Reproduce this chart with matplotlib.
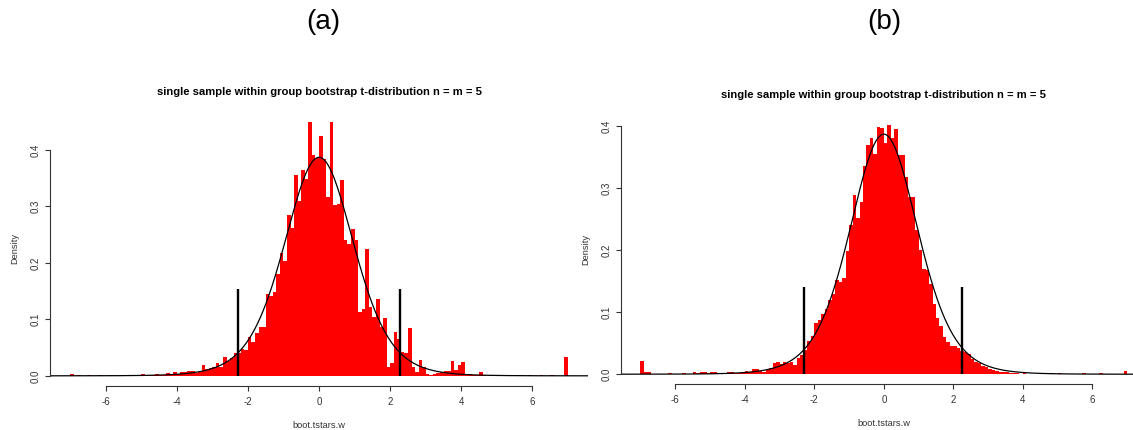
import math
import numpy as np
import matplotlib.pyplot as plt

plt.rcParams['font.family'] = ['Liberation Sans', 'DejaVu Sans']

# histogram breaks (bin width 0.1 from -7 to 7)
breaks = np.round(np.arange(-7.0, 7.05, 0.1), 1)

# (a) densities per bin, left to right
dens_a = [
    0.004, 0, 0.001, 0, 0, 0.001, 0, 0, 0.001, 0,
    0, 0.001, 0, 0, 0.001, 0, 0.001, 0.002, 0.001, 0.001,
    0.003, 0.001, 0.001, 0.002, 0.003, 0.002, 0.002, 0.005, 0.004, 0.006,
    0.004, 0.006, 0.007, 0.008, 0.008, 0.005, 0.006, 0.019, 0.012, 0.013,
    0.015, 0.022, 0.016, 0.033, 0.027, 0.031, 0.040, 0.040, 0.048, 0.046,
    0.068, 0.059, 0.075, 0.086, 0.086, 0.145, 0.142, 0.149, 0.181, 0.217,
    0.204, 0.284, 0.262, 0.355, 0.310, 0.364, 0.348, 0.449, 0.391, 0.386,
    0.424, 0.383, 0.317, 0.450, 0.302, 0.304, 0.347, 0.240, 0.234, 0.259,
    0.241, 0.113, 0.119, 0.224, 0.121, 0.104, 0.136, 0.087, 0.103, 0.016,
    0.022, 0.077, 0.066, 0.042, 0.040, 0.084, 0.015, 0.007, 0.028, 0.015,
    0.004, 0.002, 0.003, 0.005, 0.007, 0.008, 0.008, 0.026, 0.010, 0.020,
    0.025, 0.004, 0.004, 0.002, 0.001, 0.007, 0.001, 0, 0.001, 0,
    0.001, 0, 0, 0.001, 0, 0, 0.001, 0, 0, 0.001,
    0, 0, 0.001, 0, 0, 0.001, 0, 0, 0, 0.034,
]

# (b) densities per bin, left to right
dens_b = [
    0.021, 0.003, 0.003, 0.001, 0.001, 0.001, 0.0005, 0.001, 0.002, 0.001,
    0.001, 0.001, 0.002, 0.001, 0.001, 0.003, 0.002, 0.004, 0.004, 0.002,
    0.004, 0.003, 0.002, 0.002, 0.002, 0.003, 0.004, 0.002, 0.002, 0.003,
    0.005, 0.004, 0.009, 0.008, 0.005, 0.004, 0.007, 0.010, 0.018, 0.019,
    0.016, 0.019, 0.018, 0.020, 0.015, 0.026, 0.031, 0.039, 0.053, 0.061,
    0.082, 0.087, 0.097, 0.105, 0.120, 0.130, 0.152, 0.148, 0.155, 0.198,
    0.240, 0.288, 0.252, 0.278, 0.336, 0.369, 0.380, 0.355, 0.399, 0.396,
    0.372, 0.402, 0.380, 0.395, 0.353, 0.353, 0.318, 0.286, 0.286, 0.232,
    0.200, 0.170, 0.168, 0.145, 0.113, 0.090, 0.077, 0.060, 0.052, 0.046,
    0.045, 0.042, 0.038, 0.035, 0.033, 0.025, 0.020, 0.018, 0.013, 0.011,
    0.009, 0.007, 0.005, 0.004, 0.004, 0.003, 0.002, 0.002, 0.002, 0.001,
    0.002, 0.001, 0.001, 0.001, 0.001, 0.0005, 0.001, 0.001, 0.002, 0.001,
    0.002, 0.001, 0.001, 0.0005, 0.001, 0.001, 0.001, 0.002, 0.001, 0.001,
    0.001, 0.001, 0.002, 0.001, 0.001, 0.001, 0.001, 0.001, 0.001, 0.005,
]

crit_a = [-2.29, 2.29]
crit_b = [-2.29, 2.26]
crit_a_top = 0.153
crit_b_top = 0.14
t_df = 8

title = 'single sample within group bootstrap t-distribution n = m = 5'
yticks = [0.0, 0.1, 0.2, 0.3, 0.4]
xticks = [-6, -4, -2, 0, 2, 4, 6]


def t_density(x, nu):
    c = math.gamma((nu + 1) / 2) / (math.sqrt(nu * math.pi) * math.gamma(nu / 2))
    return c * (1 + x ** 2 / nu) ** (-(nu + 1) / 2)


W, H = 1133, 430
fig = plt.figure(figsize=(W / 100, H / 100), dpi=100)
PT = 0.72  # points per pixel at 100 dpi


def panel(rect, dens, crit, crit_top):
    ax = fig.add_axes(rect)
    ax.bar(breaks[:-1], dens, width=0.1, align='edge', color='#ff0000', linewidth=0)
    xs = np.linspace(-7.56, 7.56, 600)
    ax.plot(xs, t_density(xs, t_df), color='black', lw=0.9)
    ax.vlines(crit, 0, crit_top, color='black', lw=1.7)
    ymax = max(dens)
    ax.set_xlim(-7.56, 7.56)
    ax.set_ylim(-0.04 * ymax, 1.04 * ymax)
    ax.spines['top'].set_visible(False)
    ax.spines['right'].set_visible(False)
    ax.spines['left'].set_bounds(0, 0.4)
    ax.spines['bottom'].set_bounds(-6, 6)
    for s in ['left', 'bottom']:
        ax.spines[s].set_color('#333333')
        ax.spines[s].set_linewidth(0.8)
    ax.set_xticks(xticks)
    ax.set_xticklabels([str(v) for v in xticks])
    ax.set_yticks(yticks)
    ax.set_yticklabels(['%.1f' % v for v in yticks], rotation=90, va='center')
    ax.tick_params(axis='x', length=5 * PT, pad=6 * PT, labelsize=7,
                   color='#333333', labelcolor='#333333', width=0.8)
    ax.tick_params(axis='y', length=5 * PT, pad=4.5 * PT, labelsize=7,
                   color='#333333', labelcolor='#333333', width=0.8)
    ax.annotate(title, xy=(0.5, 1), xycoords='axes fraction',
                xytext=(0, 19.5 * PT), textcoords='offset points',
                ha='center', va='center', fontsize=8.1, fontweight='bold')
    ax.annotate('Density', xy=(0, 0.5), xycoords='axes fraction',
                xytext=(-35 * PT, 0), textcoords='offset points',
                ha='center', va='center', rotation=90, fontsize=6.7,
                color='#333333')
    ax.annotate('boot.tstars.w', xy=(0.5, 0), xycoords='axes fraction',
                xytext=(0, -39 * PT), textcoords='offset points',
                ha='center', va='center', fontsize=6.7, color='#333333')
    return ax


# positions in pixels: left, bottom(from top), width, height
panel([50.2 / W, (H - 386.0) / H, 537.7 / W, 274.6 / H], dens_a, crit_a, crit_a_top)
panel([621.0 / W, (H - 384.2) / H, 525.7 / W, 269.5 / H], dens_b, crit_b, crit_b_top)

fig.text(323 / W, 1 - 22 / H, '(a)', ha='center', va='center', fontsize=20)
fig.text(884 / W, 1 - 22 / H, '(b)', ha='center', va='center', fontsize=20)

fig.savefig('out.png', dpi=100)
